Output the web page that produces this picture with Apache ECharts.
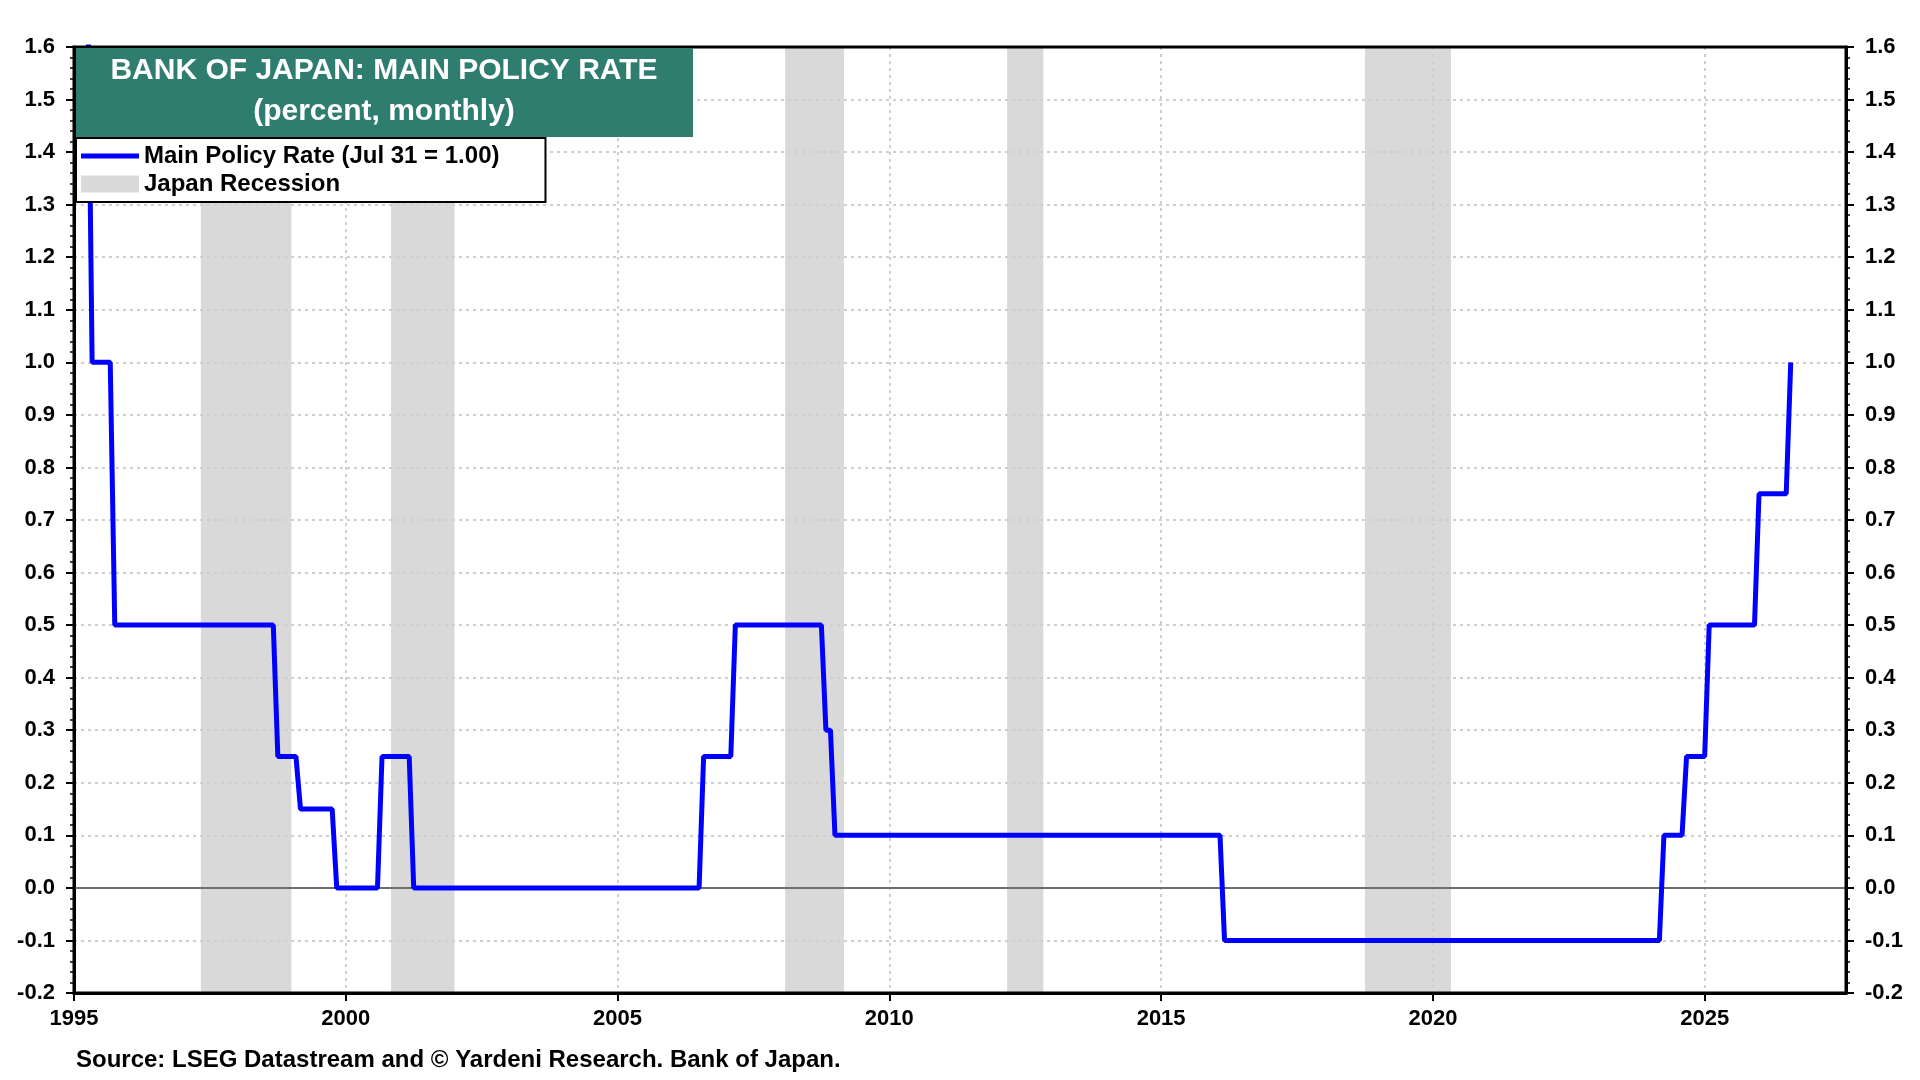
<!DOCTYPE html>
<html>
<head>
<meta charset="utf-8">
<title>Bank of Japan: Main Policy Rate</title>
<script src="https://cdn.jsdelivr.net/npm/echarts@6/dist/echarts.min.js"></script>
<style>
  html, body { margin: 0; padding: 0; background: #fff; }
  #main { width: 1920px; height: 1080px; }
</style>
</head>
<body>
<div id="main"></div>
<script>
// policy rate, month-end readings at each change (last month of old level, first month of new)
var rateMonths = [
  '1995-03', '1995-04', '1995-08', '1995-09', '1998-08', '1998-09',
  '1999-01', '1999-02', '1999-09', '1999-10', '2000-07', '2000-08', '2001-02',
  '2001-03', '2006-06', '2006-07', '2007-01', '2007-02', '2008-09', '2008-10',
  '2008-11', '2008-12', '2016-01', '2016-02', '2024-02', '2024-03', '2024-07',
  '2024-08', '2024-12', '2025-01', '2025-11', '2025-12', '2026-06', '2026-07'
];
var rateValues = [
  1.75, 1.00, 1.00, 0.50, 0.50, 0.25,
  0.25, 0.15, 0.15, 0.00, 0.00, 0.25, 0.25,
  0.00, 0.00, 0.25, 0.25, 0.50, 0.50, 0.30,
  0.30, 0.10, 0.10, -0.10, -0.10, 0.10, 0.10,
  0.25, 0.25, 0.50, 0.50, 0.75, 0.75, 1.00
];

// japan recessions (start month, end month)
var recessionStart = ['1997-05', '2000-11', '2008-02', '2012-03', '2018-10'];
var recessionEnd   = ['1999-01', '2002-01', '2009-03', '2012-11', '2020-05'];

var yearTicks = [1995, 2000, 2005, 2010, 2015, 2020, 2025];

var FONT = '"Liberation Sans", Arial, Helvetica, sans-serif';

// month string -> fractional year
function monthEnd(s) {
  var p = s.split('-');
  return +p[0] + (+p[1]) / 12;
}
function monthStart(s) {
  var p = s.split('-');
  return +p[0] + (+p[1] - 1) / 12;
}

var rateData = rateMonths.map(function (m, i) { return [monthEnd(m), rateValues[i]]; });
var recessionAreas = recessionStart.map(function (s, i) {
  return [{ xAxis: monthStart(s) }, { xAxis: monthStart(recessionEnd[i]) }];
});

var myChart = echarts.init(document.getElementById('main'));

var yAxisBase = {
  type: 'value',
  min: -0.2,
  max: 1.6,
  interval: 0.1,
  axisLine: { show: true, onZero: false, lineStyle: { color: '#000', width: 3 } },
  axisTick: { show: true, inside: false, length: 8, lineStyle: { color: '#000', width: 2 } },
  minorTick: { show: true, splitNumber: 5, length: 4, lineStyle: { color: '#000', width: 1.5 } },
  axisLabel: {
    fontSize: 22, fontWeight: 'bold', color: '#000', fontFamily: FONT, margin: 19,
    formatter: function (v) { return (Math.round(v * 10) / 10).toFixed(1); }
  }
};

myChart.setOption({
  animation: false,
  backgroundColor: '#fff',
  grid: {
    left: 74, right: 74, top: 47, bottom: 87, z: 4,
    show: true, borderColor: '#000', borderWidth: 3, backgroundColor: 'transparent'
  },
  legend: {
    left: 76, top: 138,
    orient: 'vertical',
    backgroundColor: '#fff',
    borderColor: '#000',
    borderWidth: 2,
    padding: [6, 46, 6, 5],
    itemGap: 4,
    itemWidth: 58,
    itemHeight: 17,
    textStyle: { fontSize: 24, fontWeight: 'bold', color: '#000', fontFamily: FONT },
    data: [
      { name: 'Main Policy Rate (Jul 31 = 1.00)', icon: 'path://M0 0H60V5H0Z', itemStyle: { color: '#0000ff' } },
      { name: 'Japan Recession', icon: 'rect', itemStyle: { color: '#d9d9d9' } }
    ],
    z: 10
  },
  xAxis: {
    type: 'value',
    min: 1995,
    max: 2027.6,
    interval: 5,
    axisLine: { show: true, onZero: false, lineStyle: { color: '#000', width: 3 } },
    axisTick: { show: true, inside: false, length: 8, lineStyle: { color: '#000', width: 2 } },
    axisLabel: {
      fontSize: 22, fontWeight: 'bold', color: '#000', fontFamily: FONT, margin: 15,
      showMaxLabel: false,
      formatter: function (v) { return yearTicks.indexOf(v) >= 0 ? String(v) : ''; }
    },
    splitLine: { show: true, lineStyle: { color: '#cfcfcf', type: [3, 4], width: 2 } }
  },
  yAxis: [
    Object.assign({}, yAxisBase, {
      position: 'left',
      splitLine: { show: true, lineStyle: { color: '#cfcfcf', type: [3, 4], width: 2 } }
    }),
    Object.assign({}, yAxisBase, {
      position: 'right',
      splitLine: { show: false }
    })
  ],
  series: [
    {
      name: 'Japan Recession',
      type: 'line',
      data: [],
      color: '#d9d9d9',
      markArea: {
        silent: true,
        z: -1,
        itemStyle: { color: '#d9d9d9' },
        data: recessionAreas
      },
      markLine: {
        silent: true,
        z: 1,
        symbol: 'none',
        label: { show: false },
        lineStyle: { color: '#6e6e6e', type: 'solid', width: 2 },
        data: [{ yAxis: 0 }]
      }
    },
    {
      name: 'Main Policy Rate (Jul 31 = 1.00)',
      type: 'line',
      data: rateData,
      symbol: 'none',
      clip: true,
      z: 3,
      color: '#0000ff',
      lineStyle: { color: '#0000ff', width: 5 }
    }
  ],
  graphic: [
    {
      type: 'rect',
      z: 100,
      shape: { x: 76, y: 48, width: 617, height: 89 },
      style: { fill: '#2f7d6f' }
    },
    {
      type: 'text',
      z: 101,
      x: 384, y: 71,
      style: {
        text: 'BANK OF JAPAN: MAIN POLICY RATE',
        fill: '#fff', font: 'bold 30px ' + FONT,
        align: 'center', verticalAlign: 'middle'
      }
    },
    {
      type: 'text',
      z: 101,
      x: 384, y: 112,
      style: {
        text: '(percent, monthly)',
        fill: '#fff', font: 'bold 30px ' + FONT,
        align: 'center', verticalAlign: 'middle'
      }
    },
    {
      type: 'text',
      z: 101,
      x: 76, y: 1060,
      style: {
        text: 'Source: LSEG Datastream and \u00a9 Yardeni Research. Bank of Japan.',
        fill: '#000', font: 'bold 24px ' + FONT,
        align: 'left', verticalAlign: 'middle'
      }
    }
  ]
});
</script>
</body>
</html>
